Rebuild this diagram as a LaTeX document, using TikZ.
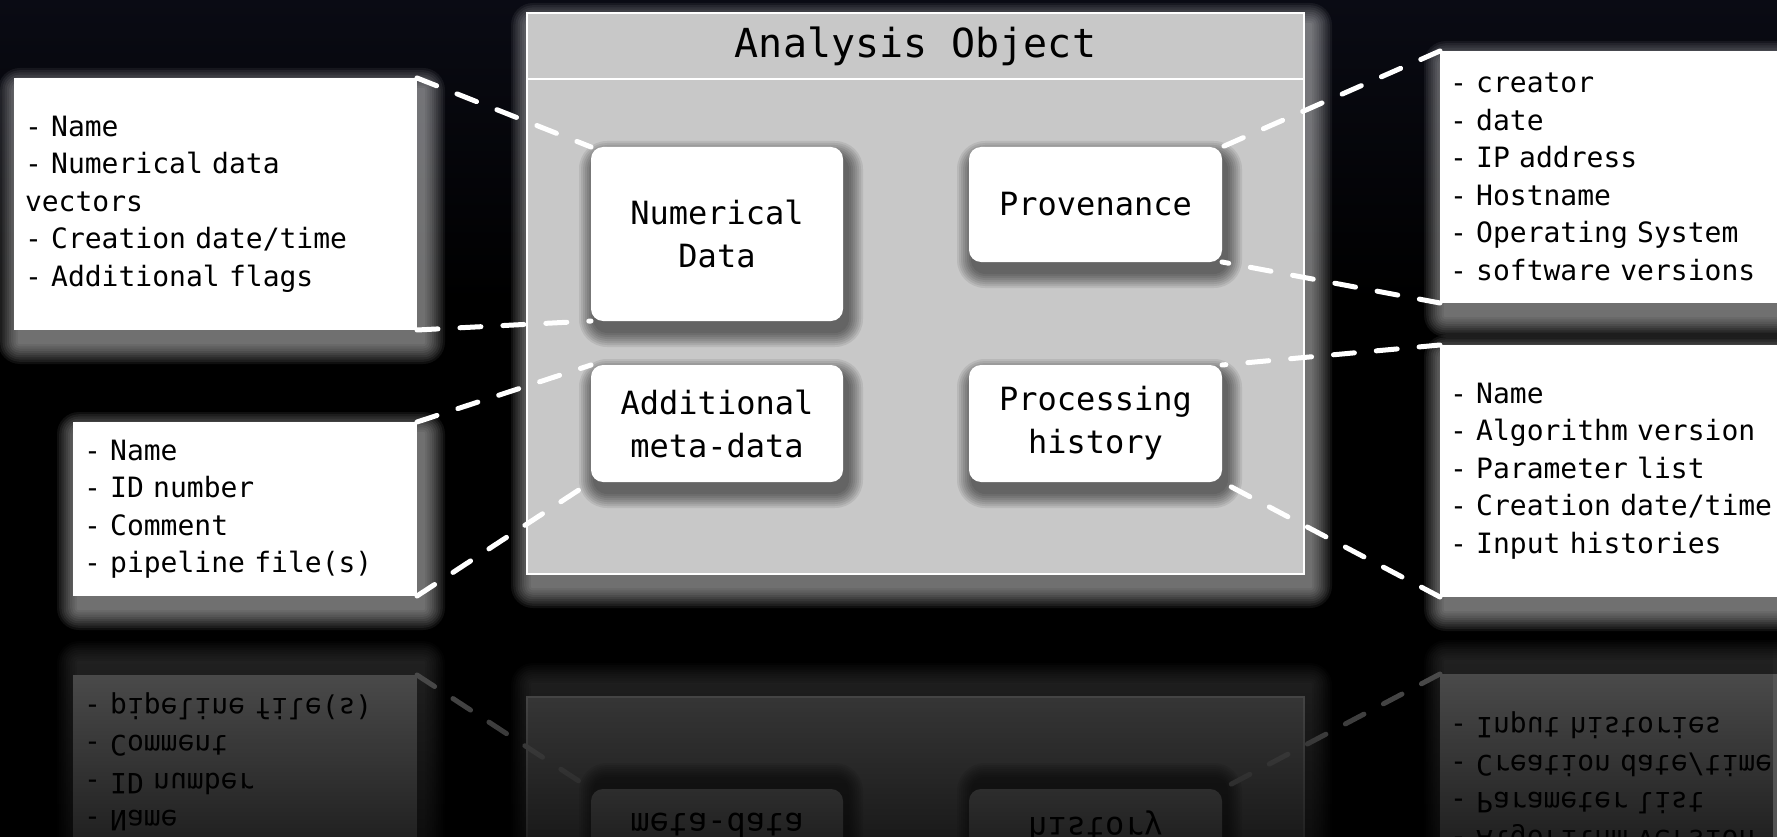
\documentclass[tikz,border=0pt]{standalone}
\usepackage{fontspec}
\newfontfamily\monof{DejaVu Sans Mono}
\usetikzlibrary{fadings}

\definecolor{aogray}{RGB}{200,200,200}
\definecolor{bgtop}{RGB}{10,11,20}
\colorlet{cbox}{white}
\colorlet{cpanel}{aogray}
\colorlet{cedge}{white}
\colorlet{cdash}{white}
\colorlet{cglow}{white}

\tikzfading[name=reflfade, top color=transparent!100, bottom color=transparent!40]

% soft light halo behind a box, offset down and right
\newcommand\glowrect[4]{%
  \foreach \k in {1,...,10}{%
    \pgfmathsetmacro\glsz{2.2*\k}%
    \fill[cglow, opacity=0.06, rounded corners=\glsz pt]
      ({#1+6-\glsz},{#2+12-\glsz}) rectangle ({#3+6+\glsz},{#4+12+\glsz});
  }}
% soft dark shadow under a rounded box
\newcommand\dropshade[4]{%
  \foreach \k in {1,...,8}{%
    \pgfmathsetmacro\shsz{2.0*\k}%
    \pgfmathsetmacro\shrad{12+\shsz}%
    \fill[black, opacity=0.08, rounded corners=\shrad pt]
      ({#1+4-\shsz},{#2+10-\shsz}) rectangle ({#3+4+\shsz},{#4+10+\shsz});
  }}

\tikzset{
  listbox/.style={anchor=north west, fill=cbox, outer sep=0pt, inner ysep=0pt,
    inner xsep=11pt, align=left, text=black,
    font={\monof\fontsize{28}{37.5}\selectfont}},
  innerbox/.style={anchor=north west, fill=cbox, outer sep=0pt, inner sep=0pt,
    rounded corners=12pt, align=center, text=black,
    font={\monof\fontsize{32}{43}\selectfont}},
  panel/.style={anchor=north west, outer sep=0pt, inner sep=0pt,
    draw=cedge, line width=2.5pt},
  link/.style={draw=cdash, line width=5pt, line cap=round,
    dash pattern=on 21pt off 22pt},
}

\newcommand\drawscene{%
  % halos
  \glowrect{14}{78}{417}{330}
  \glowrect{73}{422}{417}{596}
  \glowrect{1440}{51}{1840}{303}
  \glowrect{1440}{345}{1840}{597}
  \glowrect{527}{13}{1304}{574}
  % detail lists
  \node[listbox, minimum width=403pt, minimum height=252pt, text width=381pt] (lt) at (14,78)
    {- Name\\- Numerical data\\vectors\\- Creation date/time\\- Additional flags};
  \node[listbox, minimum width=344pt, minimum height=174pt, text width=322pt] (lb) at (73,422)
    {- Name\\- ID number\\- Comment\\- pipeline file(s)};
  \node[listbox, inner xsep=10pt, minimum width=400pt, minimum height=252pt, text width=380pt] (rt) at (1440,51)
    {- creator\\- date\\- IP address\\- Hostname\\- Operating System\\- software versions};
  \node[listbox, inner xsep=10pt, minimum width=400pt, minimum height=252pt, text width=380pt] (rb) at (1440,345)
    {- Name\\- Algorithm version\\- Parameter list\\- Creation date/time\\- Input histories};
  % analysis object panel
  \node[panel, fill=cpanel, minimum width=777pt, minimum height=561pt] (ao) at (527,13) {};
  \node[panel, minimum width=777pt, minimum height=66pt, text=black,
        font={\monof\fontsize{40}{48}\selectfont}] (aotitle) at (527,13) {Analysis Object};
  % parts
  \dropshade{591}{147}{843}{321}
  \dropshade{969}{147}{1222}{262}
  \dropshade{591}{365}{843}{482}
  \dropshade{969}{365}{1222}{482}
  \node[innerbox, minimum width=252pt, minimum height=174pt] (num) at (591,147) {Numerical\\Data};
  \node[innerbox, minimum width=253pt, minimum height=115pt] (prov) at (969,147) {Provenance};
  \node[innerbox, minimum width=252pt, minimum height=117pt] (meta) at (591,365) {Additional\\meta-data};
  \node[innerbox, minimum width=253pt, minimum height=117pt] (hist) at (969,365) {Processing\\history};
  % zoom lines
  \draw[link] (lt.north east) -- (num.north west);
  \draw[link] (lt.south east) -- (num.south west);
  \draw[link] (lb.north east) -- (meta.north west);
  \draw[link] (lb.south east) -- (meta.south west);
  \draw[link] (rt.north west) -- (prov.north east);
  \draw[link] (rt.south west) -- (prov.south east);
  \draw[link] (rb.north west) -- (hist.north east);
  \draw[link] (rb.south west) -- (hist.south east);
}

\begin{document}
\begin{tikzpicture}[x=1pt, y=-1pt]
  \useasboundingbox (0,0) rectangle (1777,837);
  \fill[black] (0,0) rectangle (1777,837);
  \shade[top color=bgtop, bottom color=black] (0,0) rectangle (1777,300);

  \drawscene

  % mirrored copy on the floor
  \begin{scope}
    \clip (0,635.5) rectangle (1777,837);
    \begin{scope}[shift={(0,1271)}, yscale=-1, transform shape]
      \colorlet{cbox}{white!33!black}
      \colorlet{cpanel}{aogray!33!black}
      \colorlet{cedge}{white!33!black}
      \colorlet{cdash}{white!33!black}
      \colorlet{cglow}{white!33!black}
      \drawscene
    \end{scope}
  \end{scope}
  \fill[black, path fading=reflfade] (0,635.5) rectangle (1777,837);
\end{tikzpicture}
\end{document}
